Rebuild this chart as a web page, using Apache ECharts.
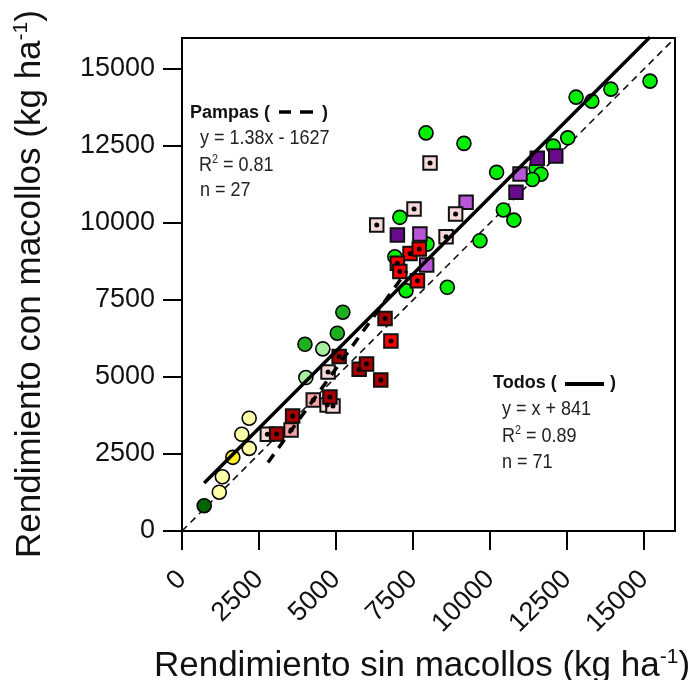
<!DOCTYPE html>
<html>
<head>
<meta charset="utf-8">
<script src="https://cdn.jsdelivr.net/npm/echarts@6/dist/echarts.min.js"></script>
<style>
  html, body { margin: 0; padding: 0; background: #fff; }
  #chart { width: 697px; height: 680px; }
</style>
</head>
<body>
<div id="chart"></div>
<script>
// Axis ticks (kg ha-1)
const xTicks = [0, 2500, 5000, 7500, 10000, 12500, 15000];
const yTicks = [0, 2500, 5000, 7500, 10000, 12500, 15000];

// [rendimiento sin macollos, rendimiento con macollos]
const verdeBrillante = [
  [15190, 14600], [13920, 14340], [12790, 14080], [13300, 13950], [12520, 12760],
  [12050, 12490], [11490, 11770], [11650, 11580], [11370, 11410], [10210, 11640],
  [9150, 12580], [10430, 10420], [10770, 10090], [9670, 9420], [7920, 12920],
  [7070, 10180], [7270, 7800], [8610, 7910], [7950, 9310], [6910, 8900]
];
const verdeMedio = [[5220, 7100], [5040, 6420], [3990, 6060]];
const verdeClaro = [[4570, 5910], [4020, 4980]];
const verdeOscuro = [[720, 820]];
const amarilloClaro = [[2180, 3660], [1940, 3140], [2180, 2680], [1310, 1760], [1210, 1260]];
const amarillo = [[1650, 2390]];
const violetaOscuro = [[12130, 12170], [11530, 12100], [10840, 10990], [6990, 9610]];
const violetaClaro = [[10970, 11590], [9220, 10670], [7720, 9640], [7940, 8630]];
const rosaPunto = [
  [8050, 11940], [7530, 10450], [6320, 9930], [8880, 10290], [8570, 9550],
  [4740, 5160], [4710, 4090], [4900, 4060], [2770, 3140]
];
const salmonPunto = [[3540, 3280], [4260, 4250]];
const rojoPunto = [[7400, 9010], [7700, 9150], [6990, 8690], [7070, 8420], [7640, 8120], [6780, 6170]];
const rojoOscuroPunto = [
  [6590, 6900], [5100, 5660], [5750, 5250], [5990, 5420], [6450, 4900],
  [4800, 4350], [3590, 3730], [3070, 3150]
];

// Regression fits
const todosFit = { slope: 1, intercept: 841 };
const pampasFit = { slope: 1.38, intercept: -1627 };
const pampasRange = [2790, 7300];
const axisMax = 16000;

const FONT = '"Liberation Sans", Arial, Helvetica, sans-serif';

const allPoints = [].concat(verdeBrillante, verdeMedio, verdeClaro, verdeOscuro, amarilloClaro,
  amarillo, violetaOscuro, violetaClaro, rosaPunto, salmonPunto, rojoPunto, rojoOscuroPunto);
const xs = allPoints.map(p => p[0]);
const todosRange = [Math.min(...xs), Math.max(...xs)];
const fitLine = (fit, range) => range.map(x => [x, fit.slope * x + fit.intercept]);

function circles(name, data, color) {
  return {
    name, type: 'scatter', data, symbol: 'circle', symbolSize: 14, z: 3,
    itemStyle: { color, borderColor: '#000', borderWidth: 1.6, opacity: 1 }
  };
}
function squares(name, data, color) {
  return {
    name, type: 'scatter', data, symbol: 'rect', symbolSize: 13.5, z: 4,
    itemStyle: { color, borderColor: '#111', borderWidth: 2, opacity: 1 }
  };
}

const dotted = [].concat(rosaPunto, salmonPunto, rojoPunto, rojoOscuroPunto);

const chart = echarts.init(document.getElementById('chart'), null, { renderer: 'canvas' });

const txt = (x, y, text, size, extra) => ({
  type: 'text', x, y, z: 50,
  style: Object.assign({ text, fontFamily: FONT, fontSize: size, fill: '#222',
    align: 'left', verticalAlign: 'middle' }, extra || {})
});

const statLine = (x, y, text) => ({
  type: 'text', x, y, z: 50, scaleX: 0.9,
  style: { text, fontFamily: FONT, fontSize: 20, fill: '#222', align: 'left', verticalAlign: 'middle' }
});
const r2Line = (x, y, val) => ({
  type: 'text', x, y, z: 50, scaleX: 0.9,
  style: {
    text: '{r|R}{s|2}{r| = ' + val + '}', fontFamily: FONT, fill: '#222', align: 'left', verticalAlign: 'middle',
    rich: {
      r: { fontFamily: FONT, fontSize: 20, fill: '#222', lineHeight: 22 },
      s: { fontFamily: FONT, fontSize: 12, fill: '#222', verticalAlign: 'top', lineHeight: 12 }
    }
  }
});

const plain = v => String(v);

const option = {
  animation: false,
  backgroundColor: '#fff',
  grid: { left: 182, top: 38, width: 493, height: 493, show: true, borderColor: '#000', borderWidth: 2 },
  xAxis: {
    type: 'value', min: 0, max: axisMax, interval: 2500,
    axisLine: { lineStyle: { color: '#000', width: 2 } },
    axisTick: { show: true, inside: false, length: 19, lineStyle: { color: '#000', width: 2 }, customValues: xTicks },
    axisLabel: { rotate: 45, margin: 44, fontSize: 27, color: '#111', fontFamily: FONT, customValues: xTicks, formatter: plain },
    splitLine: { show: false }
  },
  yAxis: {
    type: 'value', min: 0, max: axisMax, interval: 2500,
    axisLine: { lineStyle: { color: '#000', width: 2 } },
    axisTick: { show: true, inside: false, length: 19, lineStyle: { color: '#000', width: 2 }, customValues: yTicks },
    axisLabel: { margin: 27, fontSize: 27, color: '#111', fontFamily: FONT, customValues: yTicks, formatter: plain },
    splitLine: { show: false }
  },
  series: [
    {
      name: '1:1', type: 'line', data: [[0, 0], [axisMax, axisMax]], symbol: 'none', z: 2,
      lineStyle: { color: '#111', width: 1.6, type: [7, 5] }, silent: true
    },
    circles('verdeBrillante', verdeBrillante, '#00ee00'),
    circles('verdeMedio', verdeMedio, '#1fb01f'),
    circles('verdeClaro', verdeClaro, '#a8eea0'),
    circles('verdeOscuro', verdeOscuro, '#006400'),
    circles('amarilloClaro', amarilloClaro, '#ffffa8'),
    circles('amarillo', amarillo, '#ffee22'),
    squares('violetaOscuro', violetaOscuro, '#6a0a8c'),
    squares('violetaClaro', violetaClaro, '#b856d8'),
    squares('rosaPunto', rosaPunto, '#f6dada'),
    squares('salmonPunto', salmonPunto, '#f4a2a2'),
    squares('rojoPunto', rojoPunto, '#ff0000'),
    squares('rojoOscuroPunto', rojoOscuroPunto, '#a80000'),
    {
      name: 'punto', type: 'scatter', data: dotted, symbol: 'circle', symbolSize: 5, z: 5,
      itemStyle: { color: '#000', opacity: 1 }, silent: true
    },
    {
      name: 'Pampas', type: 'line', data: fitLine(pampasFit, pampasRange), symbol: 'none', z: 6,
      lineStyle: { color: '#000', width: 3.5, type: [10, 8] }, silent: true
    },
    {
      name: 'Todos', type: 'line', data: fitLine(todosFit, todosRange), symbol: 'none', z: 6, clip: true,
      lineStyle: { color: '#000', width: 3.5 }, silent: true
    }
  ],
  graphic: [
    // axis titles
    {
      type: 'text', x: 422, y: 666, z: 50,
      style: {
        text: '{r|Rendimiento sin macollos (kg ha}{s|-1}{r|)}', align: 'center', verticalAlign: 'middle',
        rich: {
          r: { fontFamily: FONT, fontSize: 35, fill: '#111', lineHeight: 38 },
          s: { fontFamily: FONT, fontSize: 21, fill: '#111', verticalAlign: 'top', lineHeight: 20 }
        }
      }
    },
    {
      type: 'text', x: 30, y: 284, rotation: Math.PI / 2, z: 50,
      style: {
        text: '{r|Rendimiento con macollos (kg ha}{s|-1}{r|)}', align: 'center', verticalAlign: 'middle',
        rich: {
          r: { fontFamily: FONT, fontSize: 35, fill: '#111', lineHeight: 38 },
          s: { fontFamily: FONT, fontSize: 21, fill: '#111', verticalAlign: 'top', lineHeight: 20 }
        }
      }
    },
    // Pampas block
    txt(190, 113, 'Pampas (', 18, { fontWeight: 'bold', fill: '#111' }),
    { type: 'line', z: 50, shape: { x1: 279, y1: 112, x2: 291, y2: 112 }, style: { stroke: '#000', lineWidth: 3.5 } },
    { type: 'line', z: 50, shape: { x1: 300, y1: 112, x2: 313, y2: 112 }, style: { stroke: '#000', lineWidth: 3.5 } },
    txt(322, 113, ')', 18, { fontWeight: 'bold', fill: '#111' }),
    statLine(200, 138, 'y = 1.38x - 1627'),
    r2Line(199, 165, '0.81'),
    statLine(200, 190, 'n = 27'),
    // Todos block
    txt(493, 383, 'Todos (', 18, { fontWeight: 'bold', fill: '#111' }),
    { type: 'line', z: 50, shape: { x1: 565, y1: 384, x2: 604, y2: 384 }, style: { stroke: '#000', lineWidth: 4 } },
    txt(610, 383, ')', 18, { fontWeight: 'bold', fill: '#111' }),
    statLine(502, 409, 'y = x + 841'),
    r2Line(502, 436, '0.89'),
    statLine(502, 462, 'n = 71')
  ]
};

chart.setOption(option);
</script>
</body>
</html>
